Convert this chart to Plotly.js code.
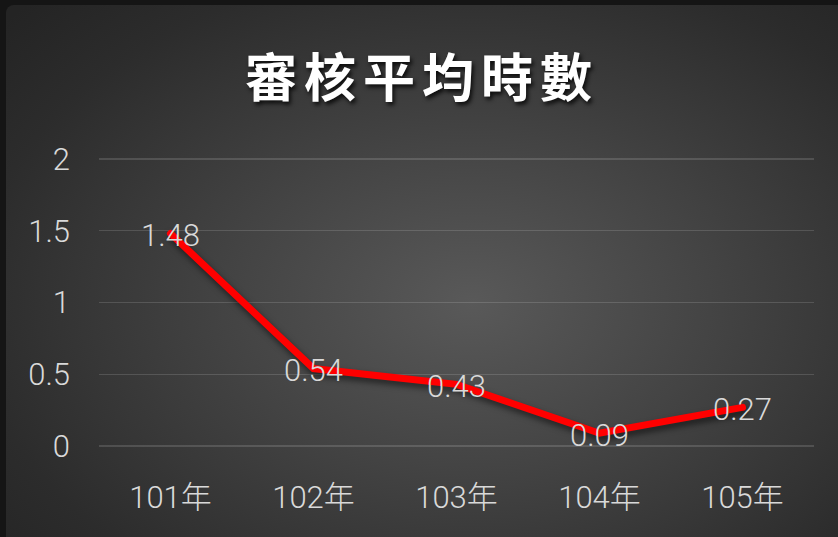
<!DOCTYPE html>
<html>
<head>
<meta charset="utf-8">
<script src="https://cdn.plot.ly/plotly-3.0.1.min.js"></script>
<style>
  html, body { margin: 0; padding: 0; background: #151515; width: 838px; height: 537px; overflow: hidden; }
  #chart {
    position: absolute; left: 6px; top: 5px; width: 832px; height: 532px;
    border-radius: 8px 0 0 0; overflow: hidden;
    background: radial-gradient(ellipse 75% 80% at 56% 56%, #595959 0%, #434343 40%, #2c2c2c 80%, #242424 100%);
  }
  .scatterlayer path.js-line { stroke-linecap: round; filter: drop-shadow(2px 4px 3px rgba(0,0,0,0.55)); }
  .scatterlayer .textpoint text { transform: translateY(5px); }
  .gtitle { letter-spacing: 7px; }
</style>
</head>
<body>
<div id="chart"></div>
<script>
const categories = ["101年", "102年", "103年", "104年", "105年"];
const values = [1.48, 0.54, 0.43, 0.09, 0.27];
const labels = ["1.48", "0.54", "0.43", "0.09", "0.27"];
const yTicks = [0, 0.5, 1, 1.5, 2];
const yTickText = ["0", "0.5", "1", "1.5", "2"];
const titleText = "審核平均時數";

const tickFont = { family: "Roboto, 'Noto Sans CJK TC', sans-serif", size: 31, color: "#d9d9d9", weight: 300 };

Plotly.newPlot("chart", [{
  x: categories,
  y: values,
  type: "scatter",
  mode: "lines+text",
  text: labels,
  textposition: "middle center",
  textfont: tickFont,
  line: { color: "#ff0000", width: 7 },
  hoverinfo: "skip",
  cliponaxis: false
}], {
  width: 832, height: 532,
  paper_bgcolor: "rgba(0,0,0,0)",
  plot_bgcolor: "rgba(0,0,0,0)",
  margin: { l: 93, r: 24, t: 151, b: 88 },
  showlegend: false,
  title: {
    text: titleText,
    xref: "container", yref: "container",
    x: 0.5, y: 1 - 74/532, xanchor: "center", yanchor: "middle",
    font: { family: "'Noto Sans CJK TC', sans-serif", size: 52, weight: 600, color: "#ffffff", shadow: "2px 3px 4px rgba(0,0,0,0.8)" }
  },
  xaxis: {
    type: "category",
    range: [-0.5, 4.5],
    showgrid: false, zeroline: false, showline: false,
    ticks: "",
    tickfont: tickFont,
    ticklabelstandoff: 27,
    fixedrange: true
  },
  yaxis: {
    range: [-0.02, 2.02],
    tickvals: yTicks, ticktext: yTickText,
    showgrid: true, gridcolor: "rgba(255,255,255,0.14)", gridwidth: 1.5,
    zeroline: false, showline: false,
    ticks: "",
    tickfont: tickFont,
    ticklabelstandoff: 28,
    fixedrange: true
  }
}, { displayModeBar: false, staticPlot: true });
</script>
</body>
</html>
